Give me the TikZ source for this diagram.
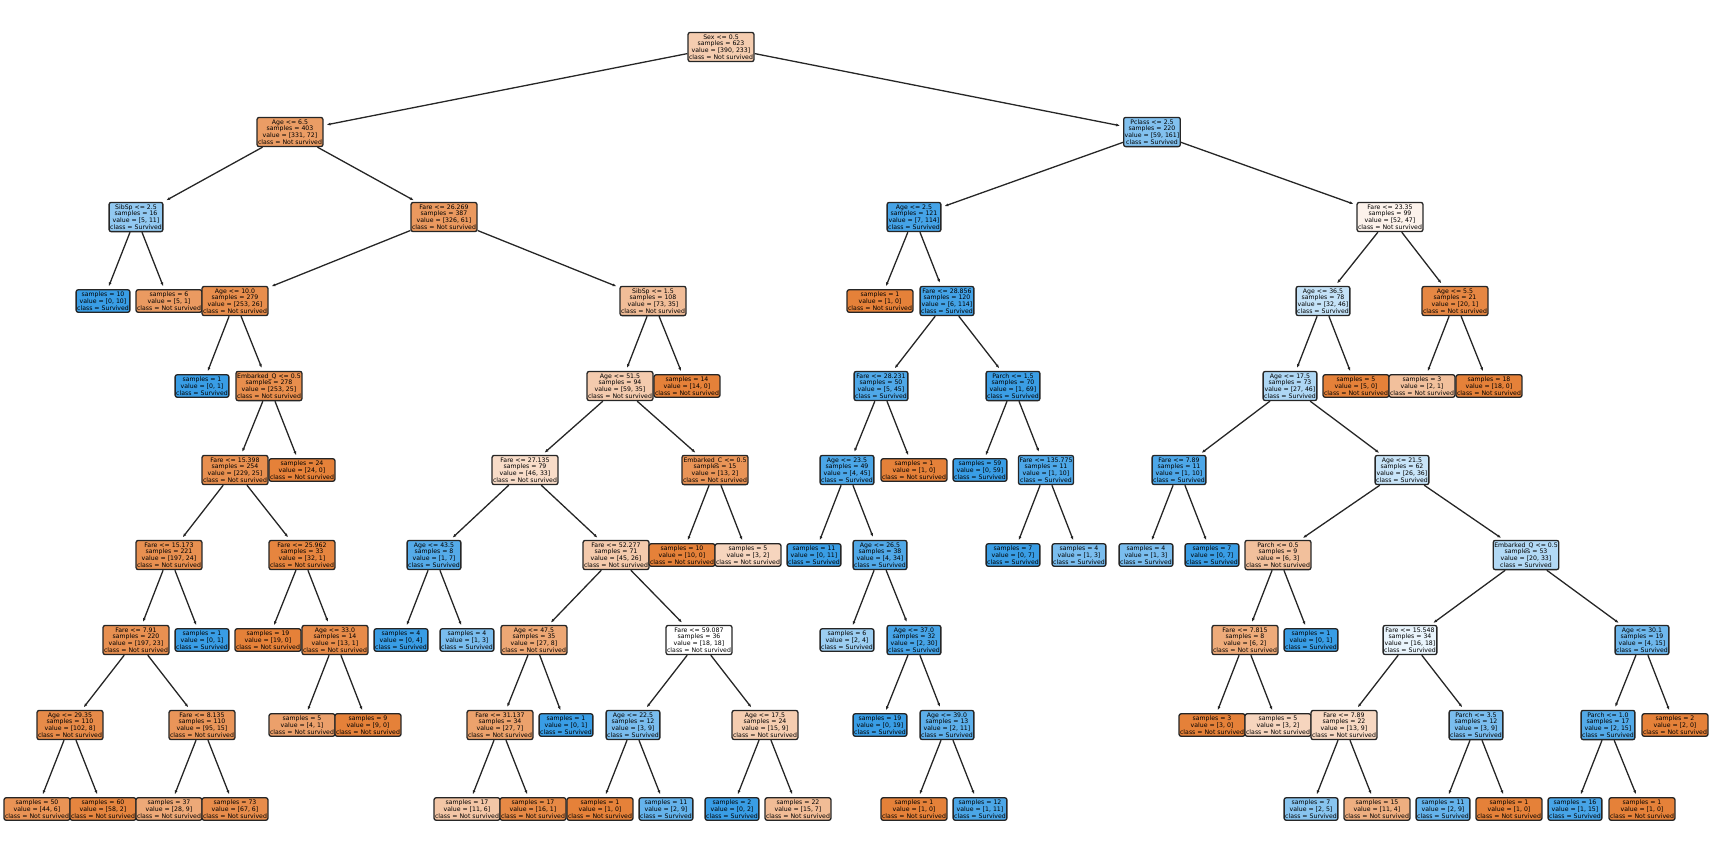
\documentclass[tikz,border=0pt]{standalone}
\usepackage{fontspec}
\setmainfont{DejaVu Sans}
\usetikzlibrary{arrows.meta}
\definecolor{orng}{RGB}{229,129,57}
\definecolor{blu}{RGB}{57,157,229}

\begin{document}
\begin{tikzpicture}[x=1pt,y=-1pt]
  \useasboundingbox (0,0) rectangle (1714,849);
  \tikzstyle{every node} = [draw=black!85,line width=1.3pt,rounded corners=2pt,align=center,inner xsep=1pt,inner ysep=2pt,font=\fontsize{6.2}{6.8}\selectfont];
  \tikzstyle{edge} = [-{Latex[length=4pt,width=3pt]},line width=1.3pt,black!85,shorten >=3pt];
  \node[fill=orng!40!white] (r0) at (721,47) {Sex <= 0.5\\samples = 623\\value = [390, 233]\\class = Not survived};
  \node[fill=orng!78!white] (l1a) at (290,132) {Age <= 6.5\\samples = 403\\value = [331, 72]\\class = Not survived};
  \node[fill=blu!63!white] (l1b) at (1152,132) {Pclass <= 2.5\\samples = 220\\value = [59, 161]\\class = Survived};
  \node[fill=blu!55!white] (l2a) at (136,217) {SibSp <= 2.5\\samples = 16\\value = [5, 11]\\class = Survived};
  \node[fill=orng!81!white] (l2b) at (444,217) {Fare <= 26.269\\samples = 387\\value = [326, 61]\\class = Not survived};
  \node[fill=blu!94!white] (l2c) at (914,217) {Age <= 2.5\\samples = 121\\value = [7, 114]\\class = Survived};
  \node[fill=orng!10!white] (l2d) at (1390,217) {Fare <= 23.35\\samples = 99\\value = [52, 47]\\class = Not survived};
  \node[fill=blu] (l3a) at (103,301) {samples = 10\\value = [0, 10]\\class = Survived};
  \node[fill=orng!80!white] (l3b) at (169,301) {samples = 6\\value = [5, 1]\\class = Not survived};
  \node[fill=orng!90!white] (l3c) at (235,301) {Age <= 10.0\\samples = 279\\value = [253, 26]\\class = Not survived};
  \node[fill=orng!52!white] (l3d) at (653,301) {SibSp <= 1.5\\samples = 108\\value = [73, 35]\\class = Not survived};
  \node[fill=orng] (l3e) at (880,301) {samples = 1\\value = [1, 0]\\class = Not survived};
  \node[fill=blu!95!white] (l3f) at (947,301) {Fare <= 28.856\\samples = 120\\value = [6, 114]\\class = Survived};
  \node[fill=blu!30!white] (l3g) at (1323,301) {Age <= 36.5\\samples = 78\\value = [32, 46]\\class = Survived};
  \node[fill=orng!95!white] (l3h) at (1455,301) {Age <= 5.5\\samples = 21\\value = [20, 1]\\class = Not survived};
  \node[fill=blu] (l4a) at (202,386) {samples = 1\\value = [0, 1]\\class = Survived};
  \node[fill=orng!90!white] (l4b) at (269,386) {Embarked\_Q <= 0.5\\samples = 278\\value = [253, 25]\\class = Not survived};
  \node[fill=orng!41!white] (l4c) at (620,386) {Age <= 51.5\\samples = 94\\value = [59, 35]\\class = Not survived};
  \node[fill=orng] (l4d) at (687,386) {samples = 14\\value = [14, 0]\\class = Not survived};
  \node[fill=blu!89!white] (l4e) at (881,386) {Fare <= 28.231\\samples = 50\\value = [5, 45]\\class = Survived};
  \node[fill=blu!99!white] (l4f) at (1013,386) {Parch <= 1.5\\samples = 70\\value = [1, 69]\\class = Survived};
  \node[fill=blu!41!white] (l4g) at (1290,386) {Age <= 17.5\\samples = 73\\value = [27, 46]\\class = Survived};
  \node[fill=orng] (l4h) at (1356,386) {samples = 5\\value = [5, 0]\\class = Not survived};
  \node[fill=orng!50!white] (l4i) at (1422,386) {samples = 3\\value = [2, 1]\\class = Not survived};
  \node[fill=orng] (l4j) at (1489,386) {samples = 18\\value = [18, 0]\\class = Not survived};
  \node[fill=orng!89!white] (l5a) at (235,470) {Fare <= 15.398\\samples = 254\\value = [229, 25]\\class = Not survived};
  \node[fill=orng] (l5b) at (302,470) {samples = 24\\value = [24, 0]\\class = Not survived};
  \node[fill=orng!28!white] (l5c) at (525,470) {Fare <= 27.135\\samples = 79\\value = [46, 33]\\class = Not survived};
  \node[fill=orng!85!white] (l5d) at (715,470) {Embarked\_C <= 0.5\\samples = 15\\value = [13, 2]\\class = Not survived};
  \node[fill=blu!91!white] (l5e) at (847,470) {Age <= 23.5\\samples = 49\\value = [4, 45]\\class = Survived};
  \node[fill=orng] (l5f) at (914,470) {samples = 1\\value = [1, 0]\\class = Not survived};
  \node[fill=blu] (l5g) at (980,470) {samples = 59\\value = [0, 59]\\class = Survived};
  \node[fill=blu!90!white] (l5h) at (1046,470) {Fare <= 135.775\\samples = 11\\value = [1, 10]\\class = Survived};
  \node[fill=blu!90!white] (l5i) at (1179,470) {Fare <= 7.89\\samples = 11\\value = [1, 10]\\class = Survived};
  \node[fill=blu!28!white] (l5j) at (1402,470) {Age <= 21.5\\samples = 62\\value = [26, 36]\\class = Survived};
  \node[fill=orng!88!white] (l6a) at (169,555) {Fare <= 15.173\\samples = 221\\value = [197, 24]\\class = Not survived};
  \node[fill=orng!97!white] (l6b) at (302,555) {Fare <= 25.962\\samples = 33\\value = [32, 1]\\class = Not survived};
  \node[fill=blu!86!white] (l6c) at (434,555) {Age <= 43.5\\samples = 8\\value = [1, 7]\\class = Survived};
  \node[fill=orng!42!white] (l6d) at (616,555) {Fare <= 52.277\\samples = 71\\value = [45, 26]\\class = Not survived};
  \node[fill=orng] (l6e) at (682,555) {samples = 10\\value = [10, 0]\\class = Not survived};
  \node[fill=orng!33!white] (l6f) at (748,555) {samples = 5\\value = [3, 2]\\class = Not survived};
  \node[fill=blu] (l6g) at (814,555) {samples = 11\\value = [0, 11]\\class = Survived};
  \node[fill=blu!88!white] (l6h) at (880,555) {Age <= 26.5\\samples = 38\\value = [4, 34]\\class = Survived};
  \node[fill=blu] (l6i) at (1013,555) {samples = 7\\value = [0, 7]\\class = Survived};
  \node[fill=blu!67!white] (l6j) at (1079,555) {samples = 4\\value = [1, 3]\\class = Survived};
  \node[fill=blu!67!white] (l6k) at (1146,555) {samples = 4\\value = [1, 3]\\class = Survived};
  \node[fill=blu] (l6l) at (1212,555) {samples = 7\\value = [0, 7]\\class = Survived};
  \node[fill=orng!50!white] (l6m) at (1278,555) {Parch <= 0.5\\samples = 9\\value = [6, 3]\\class = Not survived};
  \node[fill=blu!39!white] (l6n) at (1526,555) {Embarked\_Q <= 0.5\\samples = 53\\value = [20, 33]\\class = Survived};
  \node[fill=orng!88!white] (l7a) at (136,640) {Fare <= 7.91\\samples = 220\\value = [197, 23]\\class = Not survived};
  \node[fill=blu] (l7b) at (202,640) {samples = 1\\value = [0, 1]\\class = Survived};
  \node[fill=orng] (l7c) at (268,640) {samples = 19\\value = [19, 0]\\class = Not survived};
  \node[fill=orng!92!white] (l7d) at (335,640) {Age <= 33.0\\samples = 14\\value = [13, 1]\\class = Not survived};
  \node[fill=blu] (l7e) at (401,640) {samples = 4\\value = [0, 4]\\class = Survived};
  \node[fill=blu!67!white] (l7f) at (467,640) {samples = 4\\value = [1, 3]\\class = Survived};
  \node[fill=orng!70!white] (l7g) at (534,640) {Age <= 47.5\\samples = 35\\value = [27, 8]\\class = Not survived};
  \node[fill=white] (l7h) at (699,640) {Fare <= 59.087\\samples = 36\\value = [18, 18]\\class = Not survived};
  \node[fill=blu!50!white] (l7i) at (847,640) {samples = 6\\value = [2, 4]\\class = Survived};
  \node[fill=blu!93!white] (l7j) at (914,640) {Age <= 37.0\\samples = 32\\value = [2, 30]\\class = Survived};
  \node[fill=orng!67!white] (l7k) at (1245,640) {Fare <= 7.815\\samples = 8\\value = [6, 2]\\class = Not survived};
  \node[fill=blu] (l7l) at (1311,640) {samples = 1\\value = [0, 1]\\class = Survived};
  \node[fill=blu!11!white] (l7m) at (1410,640) {Fare <= 15.548\\samples = 34\\value = [16, 18]\\class = Survived};
  \node[fill=blu!73!white] (l7n) at (1642,640) {Age <= 30.1\\samples = 19\\value = [4, 15]\\class = Survived};
  \node[fill=orng!92!white] (l8a) at (70,725) {Age <= 29.35\\samples = 110\\value = [102, 8]\\class = Not survived};
  \node[fill=orng!84!white] (l8b) at (202,725) {Fare <= 8.135\\samples = 110\\value = [95, 15]\\class = Not survived};
  \node[fill=orng!75!white] (l8c) at (302,725) {samples = 5\\value = [4, 1]\\class = Not survived};
  \node[fill=orng] (l8d) at (368,725) {samples = 9\\value = [9, 0]\\class = Not survived};
  \node[fill=orng!74!white] (l8e) at (500,725) {Fare <= 31.137\\samples = 34\\value = [27, 7]\\class = Not survived};
  \node[fill=blu] (l8f) at (566,725) {samples = 1\\value = [0, 1]\\class = Survived};
  \node[fill=blu!67!white] (l8g) at (633,725) {Age <= 22.5\\samples = 12\\value = [3, 9]\\class = Survived};
  \node[fill=orng!40!white] (l8h) at (765,725) {Age <= 17.5\\samples = 24\\value = [15, 9]\\class = Not survived};
  \node[fill=blu] (l8i) at (880,725) {samples = 19\\value = [0, 19]\\class = Survived};
  \node[fill=blu!82!white] (l8j) at (947,725) {Age <= 39.0\\samples = 13\\value = [2, 11]\\class = Survived};
  \node[fill=orng] (l8k) at (1212,725) {samples = 3\\value = [3, 0]\\class = Not survived};
  \node[fill=orng!33!white] (l8l) at (1278,725) {samples = 5\\value = [3, 2]\\class = Not survived};
  \node[fill=orng!31!white] (l8m) at (1344,725) {Fare <= 7.89\\samples = 22\\value = [13, 9]\\class = Not survived};
  \node[fill=blu!67!white] (l8n) at (1476,725) {Parch <= 3.5\\samples = 12\\value = [3, 9]\\class = Survived};
  \node[fill=blu!87!white] (l8o) at (1608,725) {Parch <= 1.0\\samples = 17\\value = [2, 15]\\class = Survived};
  \node[fill=orng] (l8p) at (1675,725) {samples = 2\\value = [2, 0]\\class = Not survived};
  \node[fill=orng!86!white] (l9a) at (37,809) {samples = 50\\value = [44, 6]\\class = Not survived};
  \node[fill=orng!97!white] (l9b) at (103,809) {samples = 60\\value = [58, 2]\\class = Not survived};
  \node[fill=orng!68!white] (l9c) at (169,809) {samples = 37\\value = [28, 9]\\class = Not survived};
  \node[fill=orng!91!white] (l9d) at (235,809) {samples = 73\\value = [67, 6]\\class = Not survived};
  \node[fill=orng!45!white] (l9e) at (467,809) {samples = 17\\value = [11, 6]\\class = Not survived};
  \node[fill=orng!94!white] (l9f) at (533,809) {samples = 17\\value = [16, 1]\\class = Not survived};
  \node[fill=orng] (l9g) at (600,809) {samples = 1\\value = [1, 0]\\class = Not survived};
  \node[fill=blu!78!white] (l9h) at (666,809) {samples = 11\\value = [2, 9]\\class = Survived};
  \node[fill=blu] (l9i) at (732,809) {samples = 2\\value = [0, 2]\\class = Survived};
  \node[fill=orng!53!white] (l9j) at (798,809) {samples = 22\\value = [15, 7]\\class = Not survived};
  \node[fill=orng] (l9k) at (914,809) {samples = 1\\value = [1, 0]\\class = Not survived};
  \node[fill=blu!91!white] (l9l) at (980,809) {samples = 12\\value = [1, 11]\\class = Survived};
  \node[fill=blu!60!white] (l9m) at (1311,809) {samples = 7\\value = [2, 5]\\class = Survived};
  \node[fill=orng!64!white] (l9n) at (1377,809) {samples = 15\\value = [11, 4]\\class = Not survived};
  \node[fill=blu!78!white] (l9o) at (1443,809) {samples = 11\\value = [2, 9]\\class = Survived};
  \node[fill=orng] (l9p) at (1509,809) {samples = 1\\value = [1, 0]\\class = Not survived};
  \node[fill=blu!93!white] (l9q) at (1575,809) {samples = 16\\value = [1, 15]\\class = Survived};
  \node[fill=orng] (l9r) at (1642,809) {samples = 1\\value = [1, 0]\\class = Not survived};
  \draw[edge] (r0) -- (l1a); \draw[edge] (r0) -- (l1b);
  \draw[edge] (l1a) -- (l2a); \draw[edge] (l1a) -- (l2b);
  \draw[edge] (l1b) -- (l2c); \draw[edge] (l1b) -- (l2d);
  \draw[edge] (l2a) -- (l3a); \draw[edge] (l2a) -- (l3b);
  \draw[edge] (l2b) -- (l3c); \draw[edge] (l2b) -- (l3d);
  \draw[edge] (l2c) -- (l3e); \draw[edge] (l2c) -- (l3f);
  \draw[edge] (l2d) -- (l3g); \draw[edge] (l2d) -- (l3h);
  \draw[edge] (l3c) -- (l4a); \draw[edge] (l3c) -- (l4b);
  \draw[edge] (l3d) -- (l4c); \draw[edge] (l3d) -- (l4d);
  \draw[edge] (l3f) -- (l4e); \draw[edge] (l3f) -- (l4f);
  \draw[edge] (l3g) -- (l4g); \draw[edge] (l3g) -- (l4h);
  \draw[edge] (l3h) -- (l4i); \draw[edge] (l3h) -- (l4j);
  \draw[edge] (l4b) -- (l5a); \draw[edge] (l4b) -- (l5b);
  \draw[edge] (l4c) -- (l5c); \draw[edge] (l4c) -- (l5d);
  \draw[edge] (l4e) -- (l5e); \draw[edge] (l4e) -- (l5f);
  \draw[edge] (l4f) -- (l5g); \draw[edge] (l4f) -- (l5h);
  \draw[edge] (l4g) -- (l5i); \draw[edge] (l4g) -- (l5j);
  \draw[edge] (l5a) -- (l6a); \draw[edge] (l5a) -- (l6b);
  \draw[edge] (l5c) -- (l6c); \draw[edge] (l5c) -- (l6d);
  \draw[edge] (l5d) -- (l6e); \draw[edge] (l5d) -- (l6f);
  \draw[edge] (l5e) -- (l6g); \draw[edge] (l5e) -- (l6h);
  \draw[edge] (l5h) -- (l6i); \draw[edge] (l5h) -- (l6j);
  \draw[edge] (l5i) -- (l6k); \draw[edge] (l5i) -- (l6l);
  \draw[edge] (l5j) -- (l6m); \draw[edge] (l5j) -- (l6n);
  \draw[edge] (l6a) -- (l7a); \draw[edge] (l6a) -- (l7b);
  \draw[edge] (l6b) -- (l7c); \draw[edge] (l6b) -- (l7d);
  \draw[edge] (l6c) -- (l7e); \draw[edge] (l6c) -- (l7f);
  \draw[edge] (l6d) -- (l7g); \draw[edge] (l6d) -- (l7h);
  \draw[edge] (l6h) -- (l7i); \draw[edge] (l6h) -- (l7j);
  \draw[edge] (l6m) -- (l7k); \draw[edge] (l6m) -- (l7l);
  \draw[edge] (l6n) -- (l7m); \draw[edge] (l6n) -- (l7n);
  \draw[edge] (l7a) -- (l8a); \draw[edge] (l7a) -- (l8b);
  \draw[edge] (l7d) -- (l8c); \draw[edge] (l7d) -- (l8d);
  \draw[edge] (l7g) -- (l8e); \draw[edge] (l7g) -- (l8f);
  \draw[edge] (l7h) -- (l8g); \draw[edge] (l7h) -- (l8h);
  \draw[edge] (l7j) -- (l8i); \draw[edge] (l7j) -- (l8j);
  \draw[edge] (l7k) -- (l8k); \draw[edge] (l7k) -- (l8l);
  \draw[edge] (l7m) -- (l8m); \draw[edge] (l7m) -- (l8n);
  \draw[edge] (l7n) -- (l8o); \draw[edge] (l7n) -- (l8p);
  \draw[edge] (l8a) -- (l9a); \draw[edge] (l8a) -- (l9b);
  \draw[edge] (l8b) -- (l9c); \draw[edge] (l8b) -- (l9d);
  \draw[edge] (l8e) -- (l9e); \draw[edge] (l8e) -- (l9f);
  \draw[edge] (l8g) -- (l9g); \draw[edge] (l8g) -- (l9h);
  \draw[edge] (l8h) -- (l9i); \draw[edge] (l8h) -- (l9j);
  \draw[edge] (l8j) -- (l9k); \draw[edge] (l8j) -- (l9l);
  \draw[edge] (l8m) -- (l9m); \draw[edge] (l8m) -- (l9n);
  \draw[edge] (l8n) -- (l9o); \draw[edge] (l8n) -- (l9p);
  \draw[edge] (l8o) -- (l9q); \draw[edge] (l8o) -- (l9r);
\end{tikzpicture}
\end{document}
